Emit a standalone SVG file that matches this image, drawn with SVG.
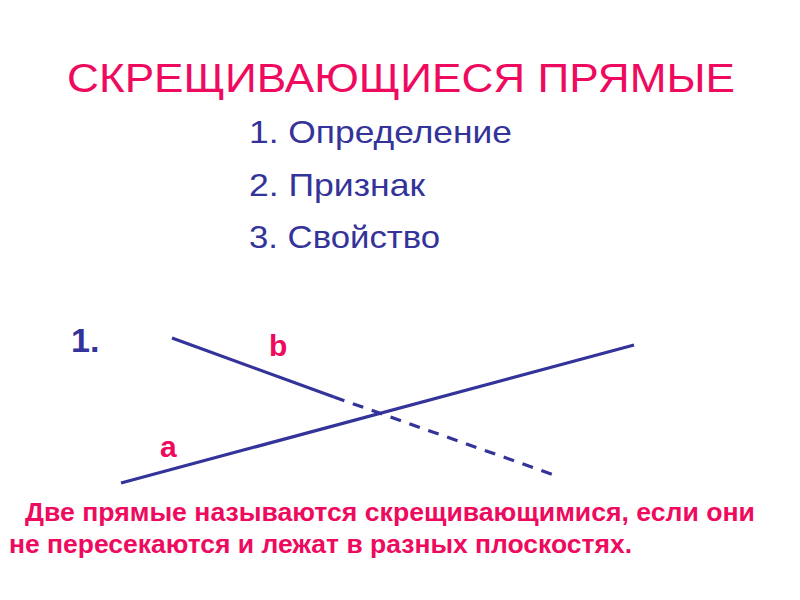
<svg xmlns="http://www.w3.org/2000/svg" width="800" height="600" viewBox="0 0 800 600">
<style>
.t{font-family:"Liberation Sans",Arial,sans-serif}
.pink{fill:#EE0A5E}
.navy{fill:#333399}
.ln{stroke:#333399;stroke-width:3.2;fill:none;stroke-linecap:butt}
</style>
<rect width="800" height="600" fill="#ffffff"/>
<g id="title">
<text class="t pink" x="67" y="92" font-size="41" textLength="668" lengthAdjust="spacingAndGlyphs">СКРЕЩИВАЮЩИЕСЯ ПРЯМЫЕ</text>
</g>
<g id="list">
<text class="t navy" x="249" y="143" font-size="32" textLength="263" lengthAdjust="spacingAndGlyphs">1. Определение</text>
<text class="t navy" x="249" y="196" font-size="32" textLength="176" lengthAdjust="spacingAndGlyphs">2. Признак</text>
<text class="t navy" x="249" y="248" font-size="32" textLength="191" lengthAdjust="spacingAndGlyphs">3. Свойство</text>
</g>
<g id="num">
<text class="t navy" x="71" y="352" font-size="34" font-weight="bold">1.</text>
</g>
<g id="connectors">
<line class="ln" x1="121" y1="483" x2="634" y2="345"/>
<line class="ln" x1="172" y1="338" x2="334" y2="397"/>
<line class="ln" x1="334" y1="397" x2="557" y2="476" stroke-dasharray="11,9"/>
</g>
<g id="label-b">
<text class="t pink" x="269" y="356" font-size="30" font-weight="bold">b</text>
</g>
<g id="label-a">
<text class="t pink" x="160" y="457" font-size="30" font-weight="bold">a</text>
</g>
<g id="definition">
<text class="t pink" x="25" y="521" font-size="25" font-weight="bold" textLength="730" lengthAdjust="spacingAndGlyphs">Две прямые называются скрещивающимися, если они</text>
<text class="t pink" x="9" y="553" font-size="25" font-weight="bold" textLength="623" lengthAdjust="spacingAndGlyphs">не пересекаются и лежат в разных плоскостях.</text>
</g>
</svg>
